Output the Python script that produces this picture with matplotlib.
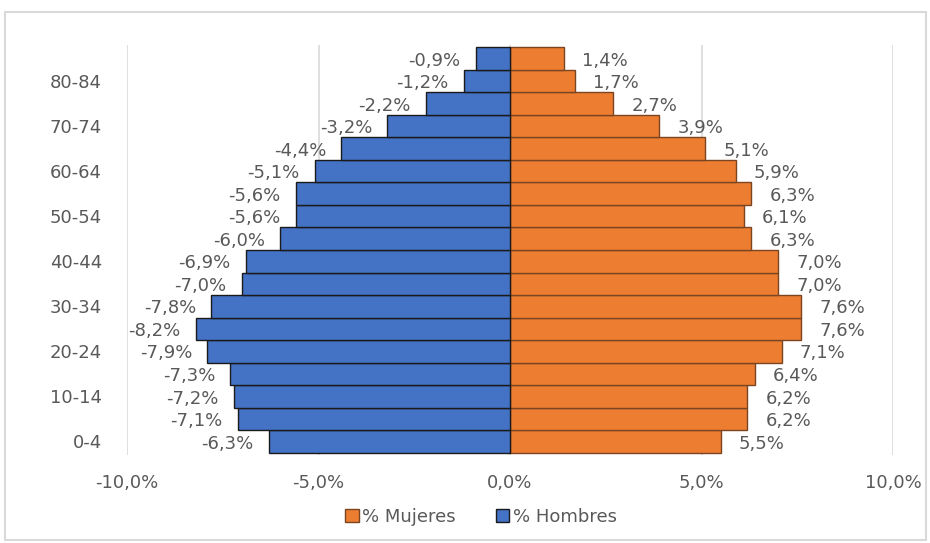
import matplotlib
matplotlib.use("Agg")
import matplotlib.pyplot as plt
from matplotlib.patches import Rectangle, Patch
import numpy as np

plt.rcParams['font.family'] = ['DejaVu Sans']

ages = ["0-4", "5-9", "10-14", "15-19", "20-24", "25-29", "30-34", "35-39",
        "40-44", "45-49", "50-54", "55-59", "60-64", "65-69", "70-74", "75-79",
        "80-84", "85+"]
hombres = [-6.3, -7.1, -7.2, -7.3, -7.9, -8.2, -7.8, -7.0, -6.9, -6.0, -5.6,
           -5.6, -5.1, -4.4, -3.2, -2.2, -1.2, -0.9]
mujeres = [5.5, 6.2, 6.2, 6.4, 7.1, 7.6, 7.6, 7.0, 7.0, 6.3, 6.1, 6.3, 5.9,
           5.1, 3.9, 2.7, 1.7, 1.4]
xticks = [-10, -5, 0, 5, 10]

fig = plt.figure(figsize=(9.3, 5.43), dpi=100)
fig.patches.append(Rectangle((5/930, 0.005), 0.99, 1 - 12/543 - 0.005,
                             transform=fig.transFigure, fill=False,
                             edgecolor='#d9d9d9', linewidth=1.5))
ax = fig.add_axes([127/930, 1 - 455/543, (893 - 127)/930, (455 - 45)/543])

y = np.arange(len(ages))
blue = '#4472C4'
orange = '#ED7D31'
ax.barh(y, mujeres, height=1.0, color=orange, edgecolor='#7a4520', linewidth=1.0,
        label='% Mujeres', zorder=3)
ax.barh(y, hombres, height=1.0, color=blue, edgecolor='#1a1a1a', linewidth=1.0,
        label='% Hombres', zorder=3)

txtc = '#595959'
fs = 13
for yi, v in zip(y, hombres):
    ax.annotate(f"{v:.1f}%".replace('.', ','), (v, yi), xytext=(-11, -1.5),
                textcoords='offset points', ha='right', va='center',
                fontsize=fs, color=txtc)
for yi, v in zip(y, mujeres):
    ax.annotate(f"{v:.1f}%".replace('.', ','), (v, yi), xytext=(13, -1.5),
                textcoords='offset points', ha='left', va='center',
                fontsize=fs, color=txtc)

ax.set_xlim(-10, 10)
ax.set_ylim(-0.6, len(ages) - 0.4)
ax.set_xticks(xticks)
ax.set_xticklabels([f"{t:.1f}%".replace('.', ',') for t in xticks],
                   fontsize=fs, color=txtc)
ax.set_yticks(y[::2])
ax.set_yticklabels(ages[::2], fontsize=fs, color=txtc)
ax.tick_params(length=0, pad=14)
ax.tick_params(axis='y', pad=18)
for s in ax.spines.values():
    s.set_visible(False)
ax.grid(axis='x', color='#d9d9d9', linewidth=1.2, zorder=0)
ax.set_axisbelow(True)

handles = [Patch(facecolor=orange, edgecolor='#7a4520', label='% Mujeres'),
           Patch(facecolor=blue, edgecolor='#1a1a1a', label='% Hombres')]
fig.legend(handles=handles, loc='center', bbox_to_anchor=(481/930, 1 - 517/543),
           ncol=2, frameon=False, fontsize=fs, labelcolor=txtc,
           handlelength=0.75, handleheight=0.75, handletextpad=0.2,
           columnspacing=2.2)

fig.savefig('out.png', dpi=100)
